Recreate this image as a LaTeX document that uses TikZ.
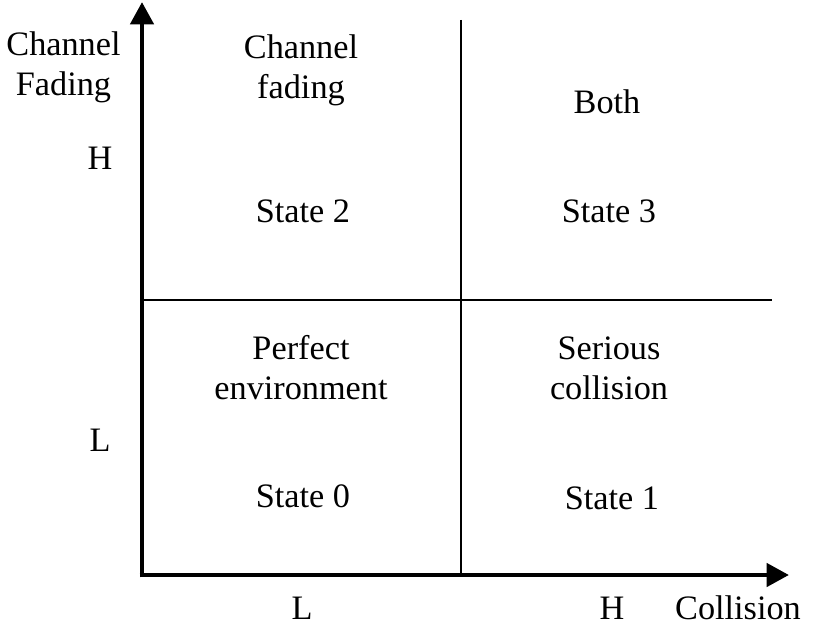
\documentclass[tikz,border=0pt]{standalone}
\usepackage{fontspec}
\setmainfont{Liberation Serif}
\usetikzlibrary{arrows.meta,positioning}

\begin{document}
\begin{tikzpicture}[x=0.02cm,y=-0.02cm,every node/.style={font=\fontsize{19.5}{22.8}\selectfont,align=center,inner sep=0pt},
axis/.style={line width=2.8pt,-{Triangle[width=0.46cm,length=0.45cm]}},
divider/.style={line width=1.1pt}]
\useasboundingbox (0,0) rectangle (814,628);
\coordinate (o) at (142,575);
\coordinate (ytip) at (142,2);
\coordinate (xtip) at (789,575);
\coordinate (vtop) at (461,20);
\coordinate (vbot) at (461,575);
\coordinate (hl) at (142,300);
\coordinate (hr) at (772,300);

\draw[divider] (vtop) -- (vbot);
\draw[divider] (hl) -- (hr);
\draw[axis] ([yshift=-1.4pt]o) -- (ytip);
\draw[axis] ([xshift=-1.4pt]o) -- (xtip);

% axis labels
\node (ylab) at (63.5,67) {Channel\\Fading};
\node[anchor=base] (yH) at (100,170) {H};
\node[anchor=base] (yL) at (100,451) {L};
\node[anchor=base] (xL) at (302,619) {L};
\node[anchor=base] (xH) at (612,619) {H};
\node[anchor=base] (xlab) at (738,619) {Collision};

% states
\node (s2) at (301,70) {Channel\\fading};
\node[anchor=base] (n2) at (303,222) {State 2};
\node[anchor=base] (s3) at (607,114) {Both};
\node[anchor=base] (n3) at (609,222) {State 3};
\node (s0) at (301,368) {Perfect\\environment};
\node[anchor=base] (n0) at (303,507) {State 0};
\node (s1) at (609,368) {Serious\\collision};
\node[anchor=base] (n1) at (612,509) {State 1};
\end{tikzpicture}
\end{document}
